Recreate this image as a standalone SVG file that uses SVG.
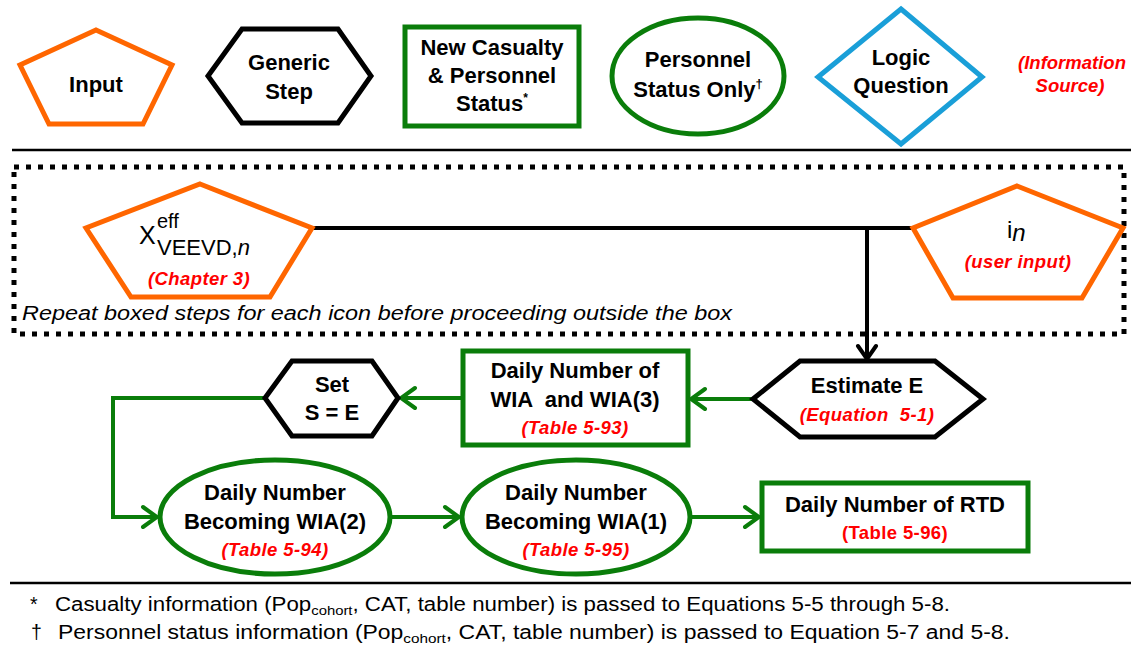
<svg xmlns="http://www.w3.org/2000/svg" width="1131" height="646" viewBox="0 0 1131 646">
<style>
text{font-family:"Liberation Sans",Arial,sans-serif;fill:#000}
.lb{font-size:22px;font-weight:bold;text-anchor:middle}
.rd{font-size:18.5px;font-weight:bold;font-style:italic;fill:#ff0000;text-anchor:middle;letter-spacing:0.4px}
.up{font-style:normal}
.inp{fill:#fff;stroke:#ff6600;stroke-width:5;stroke-linejoin:miter}
.gen{fill:#fff;stroke:#000;stroke-width:5}
.grn{fill:#fff;stroke:#0a7d0a;stroke-width:5}
.gl{fill:none;stroke:#0a7d0a;stroke-width:4}
.bl{fill:none;stroke:#000;stroke-width:4}
.ft{font-size:19.5px}
</style>
<defs>
<marker id="ag" viewBox="-18 -13 21 26" refX="0" refY="0" markerWidth="21" markerHeight="26" orient="auto" markerUnits="userSpaceOnUse">
<path d="M-14,-10 L0,0 L-14,10" fill="none" stroke="#0a7d0a" stroke-width="4" stroke-linecap="round"/>
</marker>
<marker id="ab" viewBox="-18 -13 21 26" refX="0" refY="0" markerWidth="21" markerHeight="26" orient="auto" markerUnits="userSpaceOnUse">
<path d="M-13,-9 L0,0 L-13,9" fill="none" stroke="#000" stroke-width="4" stroke-linecap="round"/>
</marker>
</defs>

<g id="legend">
<g id="leg-input">
<polygon class="inp" points="96,30 172,65 143,124 49,124 20,65"/>
<text class="lb" x="96" y="92">Input</text>
</g>
<g id="leg-generic">
<polygon class="gen" points="208,76 242,29 338,29 371,76 338,123 242,123"/>
<text class="lb" x="289" y="70">Generic</text>
<text class="lb" x="289" y="99">Step</text>
</g>
<g id="leg-casualty">
<rect class="grn" x="405" y="27" width="174" height="99"/>
<text class="lb" x="492" y="55">New Casualty</text>
<text class="lb" x="492" y="83">&amp; Personnel</text>
<text class="lb" x="492" y="111">Status<tspan font-size="12" dy="-9">*</tspan></text>
</g>
<g id="leg-personnel">
<ellipse class="grn" cx="698" cy="76" rx="86" ry="58"/>
<text class="lb" x="698" y="67">Personnel</text>
<text class="lb" x="698" y="97">Status Only<tspan font-size="13" dy="-9">†</tspan></text>
</g>
<g id="leg-logic">
<polygon points="901,9 982,77 901,144 818,77" fill="#fff" stroke="#1a9fd8" stroke-width="5"/>
<text class="lb" x="901" y="65">Logic</text>
<text class="lb" x="901" y="93">Question</text>
</g>
<g id="leg-source">
<text class="rd" x="1072" y="69" font-size="16" style="letter-spacing:0">(Information</text>
<text class="rd" x="1070" y="92" font-size="16" style="letter-spacing:0">Source)</text>
</g>
</g>

<line x1="12" y1="150" x2="1131" y2="150" stroke="#000" stroke-width="2.5"/>

<g id="repeat-box">
<rect x="14" y="167" width="1110" height="167" fill="none" stroke="#000" stroke-width="5" stroke-dasharray="5 7"/>
<text x="22" y="320" font-size="19.5" font-style="italic" textLength="710" lengthAdjust="spacingAndGlyphs">Repeat boxed steps for each icon before proceeding outside the box</text>
</g>

<g id="connectors">
<line class="bl" x1="312" y1="228" x2="913" y2="228"/>
<line class="bl" x1="867" y1="228" x2="867" y2="359" marker-end="url(#ab)"/>
<line class="gl" x1="753" y1="399" x2="691" y2="399" marker-end="url(#ag)"/>
<line class="gl" x1="463" y1="398" x2="401" y2="398" marker-end="url(#ag)"/>
<polyline class="gl" points="265,398 113,398 113,517 157,517" marker-end="url(#ag)"/>
<line class="gl" x1="390" y1="517" x2="459" y2="517" marker-end="url(#ag)"/>
<line class="gl" x1="690" y1="517" x2="759" y2="517" marker-end="url(#ag)"/>
</g>

<g id="x-input">
<polygon class="inp" points="200,184 312,228 270,297 131,297 86,228"/>
<text x="139" y="244" font-size="25">X</text>
<text x="157" y="228" font-size="20">eff</text>
<text x="157" y="255" font-size="22">VEEVD,<tspan font-style="italic">n</tspan></text>
<text class="rd" x="199" y="285">(Chapter 3)</text>
</g>

<g id="i-input">
<polygon class="inp" points="1017,186 1123,228 1082,298 953,298 913,228"/>
<text x="1007" y="238" font-size="24">i<tspan font-style="italic" dy="3">n</tspan></text>
<text class="rd" x="1018" y="268">(user input)</text>
</g>

<g id="estimate-e">
<polygon class="gen" points="753,399 800,361 935,361 983,399 935,437 800,437"/>
<text class="lb" x="867" y="393">Estimate E</text>
<text class="rd" x="867" y="421" xml:space="preserve">(Equation  5-1)</text>
</g>

<g id="wia3">
<rect class="grn" x="463" y="351" width="225" height="94"/>
<text class="lb" x="575" y="378">Daily Number of</text>
<text class="lb" x="575" y="407" xml:space="preserve">WIA  and WIA(3)</text>
<text class="rd" x="575" y="434">(Table 5-93)</text>
</g>

<g id="set-s">
<polygon class="gen" points="265,398 292,361 372,361 398,398 372,436 292,436"/>
<text class="lb" x="332" y="392">Set</text>
<text class="lb" x="332" y="420">S = E</text>
</g>

<g id="wia2">
<ellipse class="grn" cx="275" cy="517" rx="115" ry="57"/>
<text class="lb" x="275" y="500">Daily Number</text>
<text class="lb" x="275" y="529">Becoming WIA(2)</text>
<text class="rd" x="275" y="556">(Table 5-94)</text>
</g>

<g id="wia1">
<ellipse class="grn" cx="576" cy="517" rx="114" ry="57"/>
<text class="lb" x="576" y="500">Daily Number</text>
<text class="lb" x="576" y="529">Becoming WIA(1)</text>
<text class="rd" x="576" y="556">(Table 5-95)</text>
</g>

<g id="rtd">
<rect class="grn" x="762" y="483" width="266" height="68"/>
<text class="lb" x="895" y="512">Daily Number of RTD</text>
<text class="rd up" x="895" y="539">(Table 5-96)</text>
</g>

<g id="footer">
<line x1="10" y1="583" x2="1131" y2="583" stroke="#000" stroke-width="2.5"/>
<text class="ft" x="30" y="611">*</text>
<text class="ft" x="55" y="611" textLength="895" lengthAdjust="spacingAndGlyphs">Casualty information (Pop<tspan font-size="13" dy="4">cohort</tspan><tspan dy="-4">, CAT, table number) is passed to Equations 5-5 through 5-8.</tspan></text>
<text class="ft" x="31" y="639">†</text>
<text class="ft" x="58" y="639" textLength="952" lengthAdjust="spacingAndGlyphs">Personnel status information (Pop<tspan font-size="13" dy="4">cohort</tspan><tspan dy="-4">, CAT, table number) is passed to Equation 5-7 and 5-8.</tspan></text>
</g>
</svg>
